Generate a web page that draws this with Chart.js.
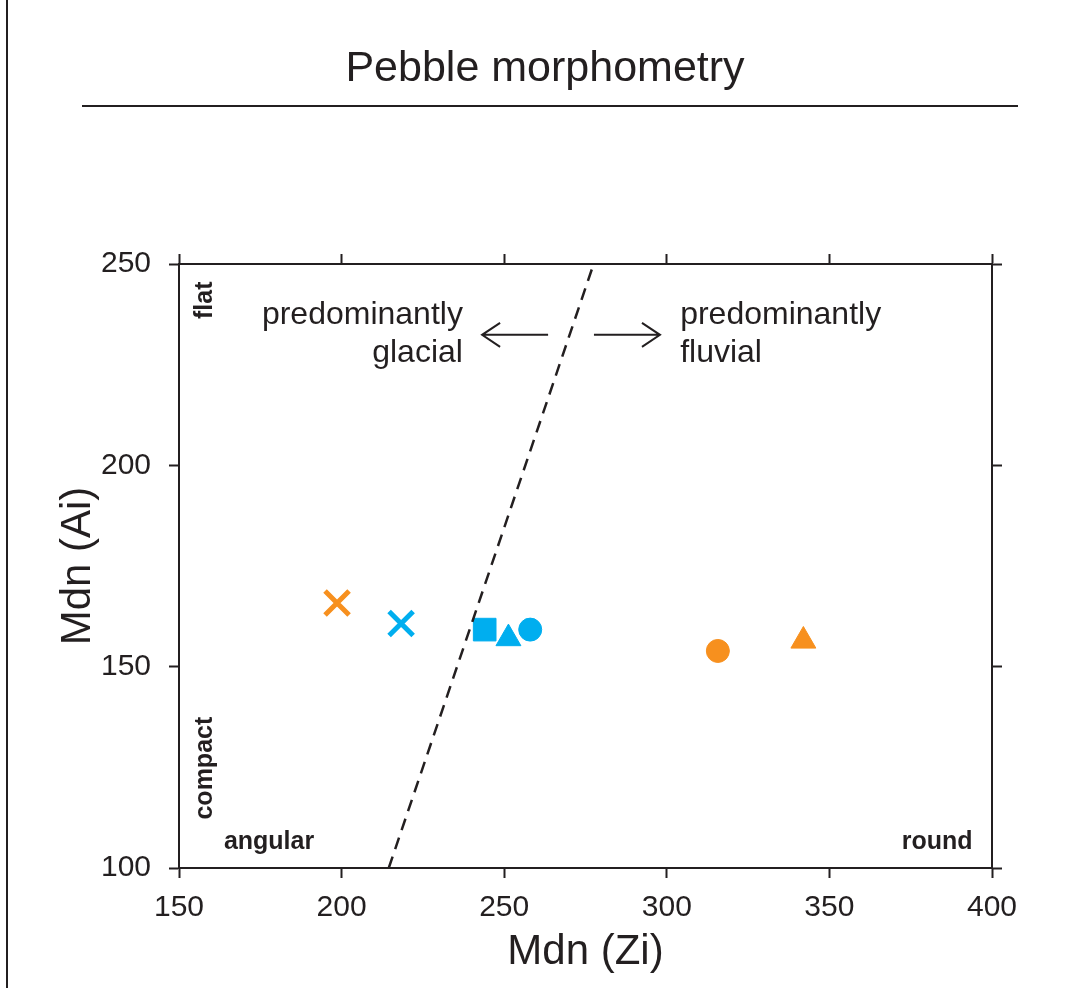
<!DOCTYPE html>
<html>
<head>
<meta charset="utf-8">
<script src="https://cdn.jsdelivr.net/npm/chart.js@4.4.0/dist/chart.umd.min.js"></script>
<style>
  html, body { margin: 0; padding: 0; background: #fff; }
  #wrap { position: relative; width: 1073px; height: 988px; }
</style>
</head>
<body>
<div id="wrap"><canvas id="myChart"></canvas></div>
<script>
// data
const orangeZi = [198.6, 315.7, 342.0];
const orangeAi = [165.8, 153.9, 156.4];
const orangeShapes = ['crossRot', 'circle', 'triangle'];

const blueZi = [218.3, 244.0, 251.3, 258.0];
const blueAi = [160.7, 159.2, 157.0, 159.2];
const blueShapes = ['crossRot', 'rect', 'triangle', 'circle'];

// glacial / fluvial divide
const divideZi = [214.5, 277.5];
const divideAi = [100, 250];

const xTicks = [150, 200, 250, 300, 350, 400];
const yTicks = [100, 150, 200, 250];

const ORANGE = '#f7901e';
const BLUE = '#00aeef';
const INK = '#231f20';

function toPoints(xs, ys) {
  return xs.map((x, i) => ({ x: x, y: ys[i] }));
}
function radiusFor(shape) {
  if (shape === 'crossRot') return 17;
  if (shape === 'rect') return 16;
  if (shape === 'triangle') return 14.4;
  return 11.5;
}
function borderFor(shape) {
  return shape === 'crossRot' ? 5 : 1;
}

// labels drawn inside the plot, in data units
const notes = [
  { text: 'predominantly', x: 237.3, y: 237.3, align: 'right' },
  { text: 'glacial', x: 237.3, y: 227.8, align: 'right' },
  { text: 'predominantly', x: 304.1, y: 237.3, align: 'left' },
  { text: 'fluvial', x: 304.1, y: 227.8, align: 'left' }
];
const cornerNotes = [
  { text: 'flat', x: 158, y: 241, rotate: true },
  { text: 'compact', x: 158, y: 124.8, rotate: true },
  { text: 'angular', x: 163.8, y: 106.5, align: 'left' },
  { text: 'round', x: 394, y: 106.5, align: 'right' }
];
const arrows = [
  { from: 263.5, to: 243.2, y: 232.4 },
  { from: 277.6, to: 297.9, y: 232.4 }
];

const extras = {
  id: 'extras',
  afterDraw(chart) {
    const ctx = chart.ctx;
    const xs = chart.scales.x, ys = chart.scales.y;
    ctx.save();
    ctx.fillStyle = INK;
    ctx.strokeStyle = INK;

    // frame bits and title
    ctx.fillRect(6, 0, 2, 988);
    ctx.fillRect(82, 105, 936, 2);
    ctx.font = '43px "Liberation Sans", Arial, sans-serif';
    ctx.textAlign = 'center';
    ctx.textBaseline = 'middle';
    ctx.fillText('Pebble morphometry', 545, 69);

    ctx.font = '32px "Liberation Sans", Arial, sans-serif';
    notes.forEach(n => {
      ctx.textAlign = n.align;
      ctx.fillText(n.text, xs.getPixelForValue(n.x), ys.getPixelForValue(n.y));
    });

    ctx.font = 'bold 25px "Liberation Sans", Arial, sans-serif';
    cornerNotes.forEach(n => {
      const px = xs.getPixelForValue(n.x), py = ys.getPixelForValue(n.y);
      if (n.rotate) {
        ctx.save();
        ctx.translate(px, py);
        ctx.rotate(-Math.PI / 2);
        ctx.textAlign = 'center';
        ctx.fillText(n.text, 0, 0);
        ctx.restore();
      } else {
        ctx.textAlign = n.align;
        ctx.fillText(n.text, px, py);
      }
    });

    ctx.lineWidth = 2;
    arrows.forEach(a => {
      const x0 = xs.getPixelForValue(a.from), x1 = xs.getPixelForValue(a.to);
      const y = ys.getPixelForValue(a.y);
      const d = x1 > x0 ? 1 : -1;
      ctx.beginPath();
      ctx.moveTo(x0, y);
      ctx.lineTo(x1, y);
      ctx.moveTo(x1 - d * 18, y - 12);
      ctx.lineTo(x1, y);
      ctx.lineTo(x1 - d * 18, y + 12);
      ctx.stroke();
    });
    ctx.restore();
  }
};

const tickFont = { family: '"Liberation Sans", Arial, sans-serif', size: 30 };

new Chart(document.getElementById('myChart'), {
  type: 'scatter',
  data: {
    datasets: [
      {
        type: 'line',
        data: toPoints(divideZi, divideAi),
        borderColor: INK,
        borderWidth: 2.5,
        borderDash: [12, 8],
        pointRadius: 0,
        fill: false
      },
      {
        data: toPoints(orangeZi, orangeAi),
        pointStyle: orangeShapes,
        pointRadius: orangeShapes.map(radiusFor),
        pointBorderWidth: orangeShapes.map(borderFor),
        backgroundColor: ORANGE,
        borderColor: ORANGE
      },
      {
        data: toPoints(blueZi, blueAi),
        pointStyle: blueShapes,
        pointRadius: blueShapes.map(radiusFor),
        pointBorderWidth: blueShapes.map(borderFor),
        backgroundColor: BLUE,
        borderColor: BLUE
      }
    ]
  },
  options: {
    responsive: true,
    maintainAspectRatio: false,
    animation: false,
    layout: { padding: { top: 254, right: 71, left: 0, bottom: 0 } },
    plugins: { legend: { display: false }, tooltip: { enabled: false } },
    scales: {
      x: {
        type: 'linear', position: 'bottom', min: 150, max: 400,
        afterBuildTicks: s => { s.ticks = xTicks.map(v => ({ value: v })); },
        afterFit: s => { s.height = 120; },
        ticks: { font: tickFont, color: INK, padding: 12, maxRotation: 0 },
        grid: { drawOnChartArea: false, tickLength: 10, tickWidth: 2, tickColor: INK },
        border: { color: INK, width: 2 },
        title: {
          display: true, text: 'Mdn (Zi)', color: INK,
          font: { family: '"Liberation Sans", Arial, sans-serif', size: 42 },
          padding: { top: 0, bottom: 10 }
        }
      },
      y: {
        type: 'linear', position: 'left', min: 100, max: 250,
        afterBuildTicks: s => { s.ticks = yTicks.map(v => ({ value: v })); },
        afterFit: s => { s.width = 179; },
        ticks: { font: tickFont, color: INK, padding: 18 },
        grid: { drawOnChartArea: false, tickLength: 10, tickWidth: 2, tickColor: INK },
        border: { color: INK, width: 2 },
        title: {
          display: true, text: 'Mdn (Ai)', color: INK,
          font: { family: '"Liberation Sans", Arial, sans-serif', size: 42 },
          padding: { top: 53, bottom: 0 }
        }
      },
      x2: {
        type: 'linear', position: 'top', min: 150, max: 400,
        afterBuildTicks: s => { s.ticks = xTicks.map(v => ({ value: v })); },
        afterFit: s => { s.height = 10; },
        ticks: { display: false },
        grid: { drawOnChartArea: false, tickLength: 10, tickWidth: 2, tickColor: INK },
        border: { color: INK, width: 2 }
      },
      y2: {
        type: 'linear', position: 'right', min: 100, max: 250,
        afterBuildTicks: s => { s.ticks = yTicks.map(v => ({ value: v })); },
        afterFit: s => { s.width = 10; },
        ticks: { display: false },
        grid: { drawOnChartArea: false, tickLength: 10, tickWidth: 2, tickColor: INK },
        border: { color: INK, width: 2 }
      }
    }
  },
  plugins: [extras]
});
</script>
</body>
</html>
